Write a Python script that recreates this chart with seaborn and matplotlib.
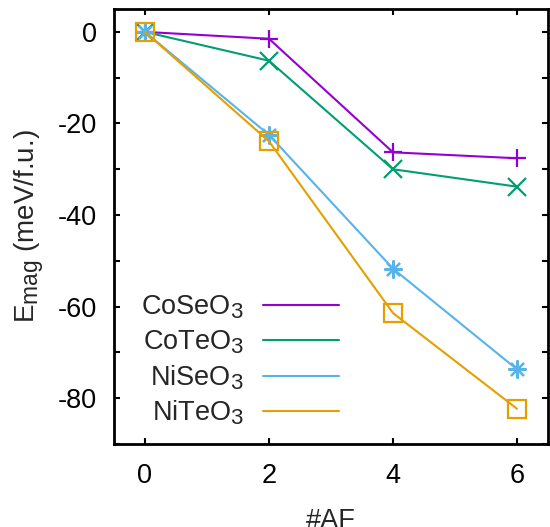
import numpy as np
import pandas as pd
import matplotlib
matplotlib.use("Agg")
import matplotlib.pyplot as plt
from matplotlib.lines import Line2D
from matplotlib.ticker import MultipleLocator
import seaborn as sns

try:
    import matplotlib._mathtext as _mt
    _mt.SHRINK_FACTOR = 0.82
except Exception:
    pass

# ---- data ----
n_af = [0, 2, 4, 6]
coseo3 = [0.0, -1.5, -26.3, -27.6]
coteo3 = [0.0, -6.3, -30.0, -33.8]
niseo3 = [0.0, -22.5, -51.7, -73.7]
niteo3 = [0.0, -23.9, -61.4, -82.3]
series_names = ["CoSeO$_3$", "CoTeO$_3$", "NiSeO$_3$", "NiTeO$_3$"]
x_ticks = [0, 2, 4, 6]
y_ticks = [0, -20, -40, -60, -80]

colors = ["#9400d3", "#009e73", "#56b4e9", "#e69f00"]
markers = ["+", "x", (8, 2, 0), "s"]

FS = 19.5

sns.set_theme(style="ticks")
plt.rcParams["font.family"] = ["Liberation Sans", "DejaVu Sans"]
plt.rcParams["mathtext.fontset"] = "custom"
plt.rcParams["mathtext.rm"] = "Liberation Sans"
plt.rcParams["mathtext.it"] = "Liberation Sans"
plt.rcParams["mathtext.default"] = "regular"
plt.rcParams["axes.unicode_minus"] = False

fig = plt.figure(figsize=(5.5, 5.27), dpi=100)
ax = fig.add_axes([114 / 550, 1 - 444 / 527, 434 / 550, 435 / 527])

for name, vals, c, m in zip(series_names, [coseo3, coteo3, niseo3, niteo3],
                            colors, markers):
    d = pd.DataFrame({"AF": n_af, "E": vals})
    sns.lineplot(data=d, x="AF", y="E", color=c, marker=m, linewidth=1.5,
                 markersize=13, markeredgewidth=1.6, markeredgecolor=c,
                 markerfacecolor="none", ax=ax, legend=False)

ax.set_xlim(-0.5, 6.5)
ax.set_ylim(-90, 5)
ax.set_xticks(x_ticks)
ax.set_yticks(y_ticks)
ax.yaxis.set_minor_locator(MultipleLocator(10))
ax.tick_params(which="both", direction="in", top=True, right=True,
               length=4.5, width=1.5, labelsize=FS, colors="black")
ax.tick_params(axis="x", pad=14)
ax.tick_params(axis="y", pad=12)
for s in ax.spines.values():
    s.set_linewidth(2)
    s.set_color("black")

ax.set_xlabel("#AF", fontsize=FS, labelpad=13)
ax.set_ylabel("E$_{mag}$ (meV/f.u.)", fontsize=20, labelpad=9)

handles = [Line2D([], [], color=c, lw=1.5) for c in colors]
ax.legend(handles, series_names, loc="center right",
          bbox_to_anchor=(0.518, 0.192), frameon=False, fontsize=FS,
          markerfirst=False, handlelength=2.8, handletextpad=0.7,
          labelspacing=0.27, borderpad=0, borderaxespad=0)

fig.savefig("out.png", dpi=100, facecolor="white")
